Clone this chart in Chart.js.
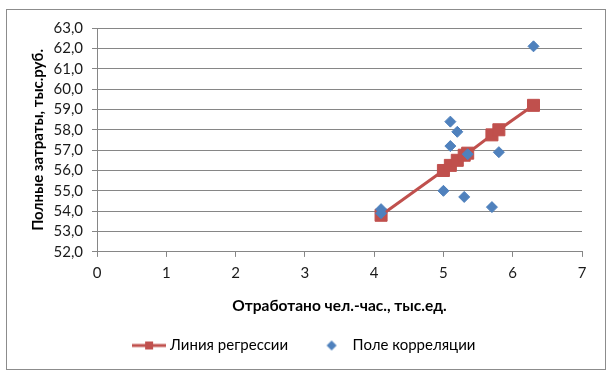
<!DOCTYPE html>
<html>
<head>
<meta charset="utf-8">
<script src="https://cdn.jsdelivr.net/npm/chart.js@4.4.1/dist/chart.umd.min.js"></script>
<style>
  html, body { margin: 0; padding: 0; background: #fff; }
  #wrap { width: 612px; height: 376px; }
</style>
</head>
<body>
<div id="wrap"><canvas id="chart" width="612" height="376"></canvas></div>
<script>
// Поле корреляции (x - отработано чел.-час., y - полные затраты)
const corrX = [4.1, 4.1, 5.0, 5.1, 5.1, 5.2, 5.3, 5.35, 5.7, 5.8, 6.3];
const corrY = [54.1, 53.9, 55.0, 58.4, 57.2, 57.9, 54.7, 56.8, 54.2, 56.9, 62.1];

// Линия регрессии
const regX = [4.1, 5.0, 5.1, 5.2, 5.3, 5.35, 5.7, 5.8, 6.3];
const regY = [53.8, 56.0, 56.25, 56.5, 56.75, 56.85, 57.75, 58.0, 59.2];

const xTicks = [0, 1, 2, 3, 4, 5, 6, 7];
const yTicks = [52, 53, 54, 55, 56, 57, 58, 59, 60, 61, 62, 63];

const RED = '#C0504D';
const BLUE = '#4F81BD';
const GRID = '#868686';
const FONT = 'Lato, "Noto Sans", sans-serif';

// legend marker: line with a square in the middle
function lineMarker() {
  const c = document.createElement('canvas');
  c.width = 34;
  c.height = 10;
  const ctx = c.getContext('2d');
  ctx.strokeStyle = RED;
  ctx.lineWidth = 3;
  ctx.beginPath();
  ctx.moveTo(0, 5);
  ctx.lineTo(34, 5);
  ctx.stroke();
  ctx.fillStyle = RED;
  ctx.fillRect(13, 1, 8, 8);
  return c;
}

// legend marker: small diamond
function diamondMarker() {
  const c = document.createElement('canvas');
  c.width = 12;
  c.height = 12;
  const ctx = c.getContext('2d');
  ctx.fillStyle = BLUE;
  ctx.beginPath();
  ctx.moveTo(6, 1);
  ctx.lineTo(11, 6);
  ctx.lineTo(6, 11);
  ctx.lineTo(1, 6);
  ctx.closePath();
  ctx.fill();
  return c;
}

const chartBorder = {
  id: 'chartBorder',
  beforeDraw(chart) {
    const ctx = chart.ctx;
    ctx.save();
    ctx.fillStyle = '#fff';
    ctx.fillRect(0, 0, chart.width, chart.height);
    ctx.strokeStyle = '#8c8c8c';
    ctx.lineWidth = 1;
    ctx.strokeRect(6.5, 9.5, 599, 360);
    ctx.restore();
  }
};

new Chart(document.getElementById('chart'), {
  type: 'scatter',
  data: {
    datasets: [
      {
        label: 'Линия регрессии',
        type: 'line',
        data: regX.map((x, i) => ({ x: x, y: regY[i] })),
        borderColor: RED,
        backgroundColor: RED,
        borderWidth: 3,
        pointStyle: 'rect',
        pointRadius: 8.5,
        pointBorderWidth: 1,
        pointHoverRadius: 8.5,
        showLine: true,
        fill: false,
        tension: 0,
        order: 1
      },
      {
        label: 'Поле корреляции',
        data: corrX.map((x, i) => ({ x: x, y: corrY[i] })),
        borderColor: BLUE,
        backgroundColor: BLUE,
        pointStyle: 'rectRot',
        pointRadius: 5.5,
        pointBorderWidth: 1,
        pointHoverRadius: 5.5,
        order: 0
      }
    ]
  },
  options: {
    responsive: false,
    animation: false,
    layout: { padding: { top: 28, left: 29, right: 30, bottom: 13 } },
    scales: {
      x: {
        type: 'linear',
        min: 0,
        max: 7,
        afterBuildTicks: scale => { scale.ticks = xTicks.map(v => ({ value: v })); },
        grid: { display: true, drawOnChartArea: false, drawTicks: true, tickLength: 5, color: GRID },
        border: { display: true, color: GRID },
        ticks: { color: '#1a1a1a', padding: 7, autoSkip: false, font: { family: FONT, size: 15 } },
        title: {
          display: true,
          text: 'Отработано чел.-час., тыс.ед.',
          color: '#000',
          font: { family: FONT, size: 15.5, weight: 'bold' },
          padding: { top: 7.5, bottom: -7 }
        }
      },
      y: {
        min: 52,
        max: 63,
        afterBuildTicks: scale => { scale.ticks = yTicks.map(v => ({ value: v })); },
        afterFit: scale => { scale.width = 68; },
        grid: { color: GRID, tickLength: 5 },
        border: { display: true, color: GRID },
        ticks: {
          color: '#1a1a1a',
          padding: 9,
          autoSkip: false,
          font: { family: FONT, size: 15 },
          callback: v => v.toFixed(1).replace('.', ',')
        },
        title: {
          display: true,
          text: 'Полные затраты, тыс.руб.',
          color: '#000',
          font: { family: FONT, size: 15, weight: 'bold' },
          padding: 0
        }
      }
    },
    plugins: {
      legend: {
        display: true,
        position: 'bottom',
        labels: {
          usePointStyle: true,
          pointStyleWidth: 27,
          boxHeight: 7,
          padding: 30,
          color: '#1a1a1a',
          font: { family: FONT, size: 15 },
          generateLabels: function(chart) {
            return [
              { text: 'Линия регрессии', pointStyle: lineMarker(), fillStyle: RED, strokeStyle: RED, lineWidth: 0, hidden: false, datasetIndex: 0 },
              { text: 'Поле корреляции', pointStyle: diamondMarker(), fillStyle: BLUE, strokeStyle: BLUE, lineWidth: 0, hidden: false, datasetIndex: 1 }
            ];
          }
        }
      },
      tooltip: { enabled: false }
    }
  },
  plugins: [chartBorder]
});
</script>
</body>
</html>
